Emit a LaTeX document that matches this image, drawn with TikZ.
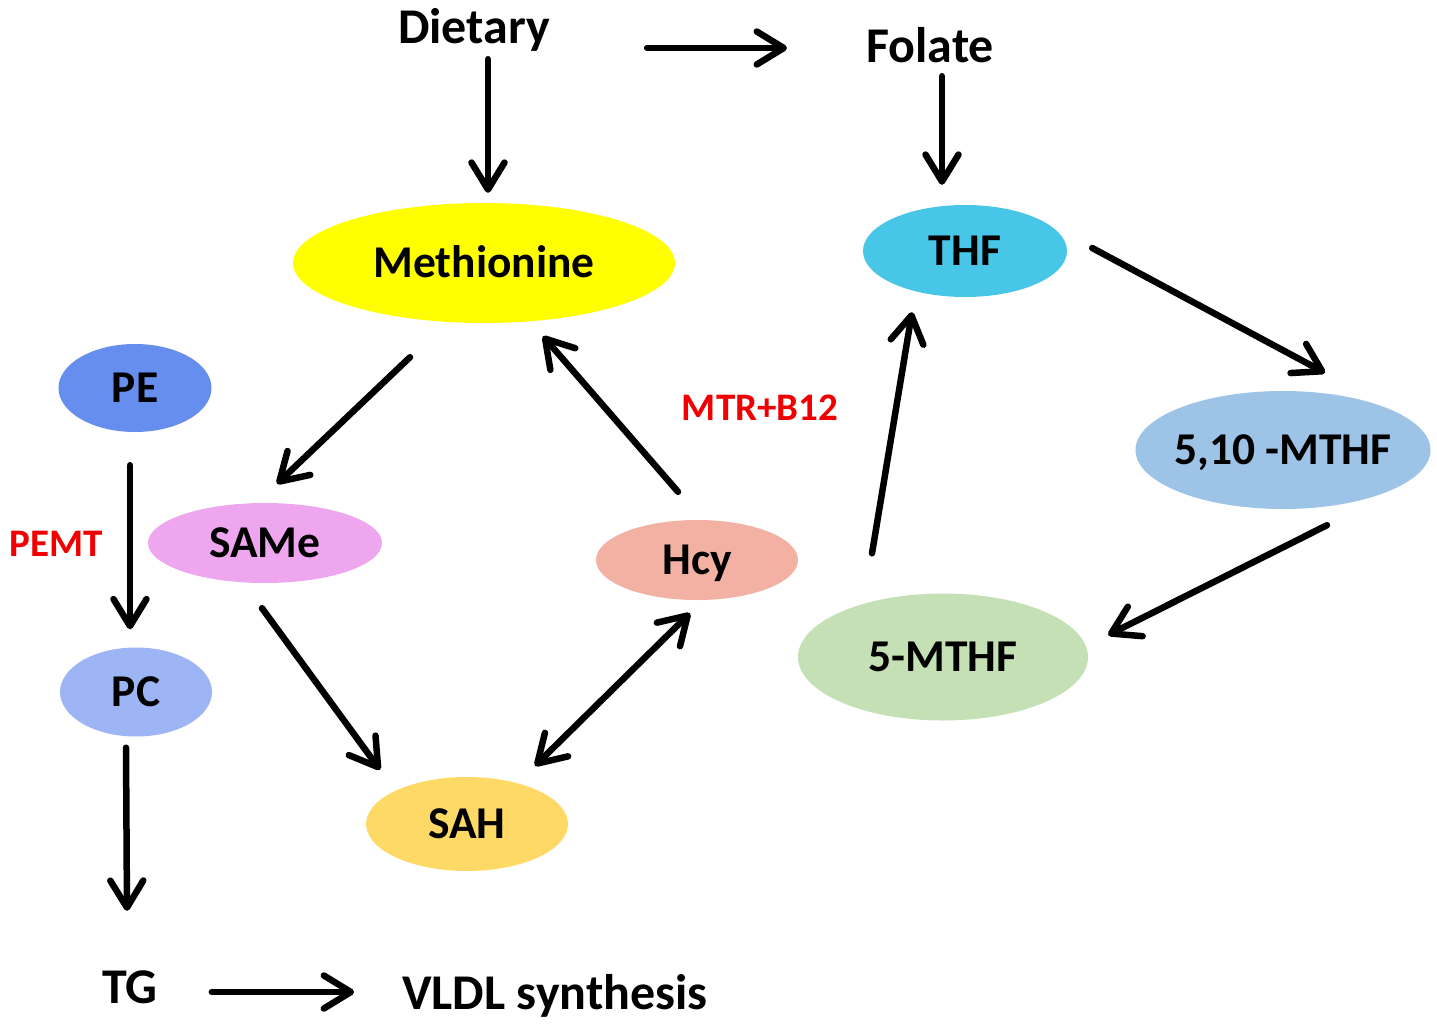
\documentclass[tikz,border=0pt]{standalone}
\usepackage{fontspec}
\setmainfont{Carlito}
\usetikzlibrary{arrows.meta,calc,shapes.geometric}
\definecolor{cMet}{HTML}{FFFF00}
\definecolor{cTHF}{HTML}{48C6E8}
\definecolor{cMTHFa}{HTML}{9DC3E6}
\definecolor{cMTHFb}{HTML}{C5E0B4}
\definecolor{cHcy}{HTML}{F2B1A2}
\definecolor{cSAMe}{HTML}{EEA6EE}
\definecolor{cSAH}{HTML}{FFD966}
\definecolor{cPE}{HTML}{668EEE}
\definecolor{cPC}{HTML}{9DB5F5}
\definecolor{cRed}{HTML}{F00000}
\begin{document}
\begin{tikzpicture}[x=1pt,y=-1pt,
  ell/.style={ellipse, inner xsep=-60pt, inner ysep=0pt, draw=none,
    font=\fontsize{45.5}{50}\selectfont\bfseries, text height=29pt, text depth=0pt},
  big/.style={inner sep=0pt, font=\fontsize{50}{56}\selectfont\bfseries, text height=32pt, text depth=0pt},
  redlbl/.style={inner sep=0pt, text=cRed, font=\fontsize{39}{44}\selectfont\bfseries, text height=25pt, text depth=0pt},
  tipa/.tip={Straight Barb[length=27pt,width=33pt,round]},
  arr/.style={line width=6.5pt, line cap=round, -tipa},
  darr/.style={line width=6.5pt, line cap=round, tipa-tipa}
]
\useasboundingbox (0,0) rectangle (1437,1025);
\fill[white] (0,0) rectangle (1437,1025);

% nodes
\node[big] (diet) at (474,28) {Dietary};
\node[big] (folate) at (930,47) {Folate};
\node[ell, fill=cMet, minimum width=382pt, minimum height=120pt] (met) at (484,263) {Methionine};
\node[ell, fill=cTHF, minimum width=204pt, minimum height=92pt] (thf) at (965,251) {THF};
\node[ell, fill=cMTHFa, minimum width=295pt, minimum height=118pt] (m510) at (1283,450) {5,10 -MTHF};
\node[ell, fill=cMTHFb, minimum width=290pt, minimum height=127pt] (m5) at (943,657) {5-MTHF};
\node[ell, fill=cHcy, minimum width=202pt, minimum height=80pt] (hcy) at (697,560) {Hcy};
\node[ell, fill=cSAMe, minimum width=234pt, minimum height=80pt] (same) at (265,543) {SAMe};
\node[ell, fill=cSAH, minimum width=202pt, minimum height=94pt] (sah) at (467,824) {SAH};
\node[ell, fill=cPE, minimum width=153pt, minimum height=88pt] (pe) at (135,388) {PE};
\node[ell, fill=cPC, minimum width=152pt, minimum height=89pt] (pc) at (136,692) {PC};
\node[big] (tg) at (130,987) {TG};
\node[big] (vldl) at (555,993) {VLDL synthesis};
\node[redlbl] (mtr) at (760,408) {MTR+B12};
\node[redlbl] (pemt) at (56,544) {PEMT};

% connectors
\draw[arr] ($(diet.south)+(14,15)$) -- ($(met.north)+(4,-10)$);
\draw[arr] ($(diet.east)+(97,20)$) -- ($(folate.west)+(-79,1)$);
\draw[arr] ($(folate.south)+(12,13)$) -- ($(thf.north)+(-23,-20)$);
\draw[arr] ($(thf.east)+(25,-3)$) -- ($(m510.north)+(42,-18)$);
\draw[arr] ($(m510.south)+(44,16)$) -- ($(m5.east)+(20,-22)$);
\draw[arr] ($(m5.north)+(-71,-40)$) -- ($(thf.south)+(-53,15)$);
\draw[arr] ($(hcy.north)+(-19,-28)$) -- ($(met.south)+(59,13)$);
\draw[arr] ($(met.south)+(-74,34)$) -- ($(same.north)+(12,-19)$);
\draw[arr] ($(same.south)+(-3,25)$) -- ($(sah.north)+(-87,-7)$);
\draw[darr] ($(sah.north)+(68,-11)$) -- ($(hcy.south)+(-7,13)$);
\draw[arr] ($(pe.south)+(-5,33)$) -- ($(pc.north)+(-6,-18)$);
\draw[arr] ($(pc.south)+(-10,11)$) -- ($(tg.north)+(-3,-60)$);
\draw[arr] ($(tg.east)+(54,5)$) -- ($(vldl.west)+(-48,-1)$);
\end{tikzpicture}
\end{document}
